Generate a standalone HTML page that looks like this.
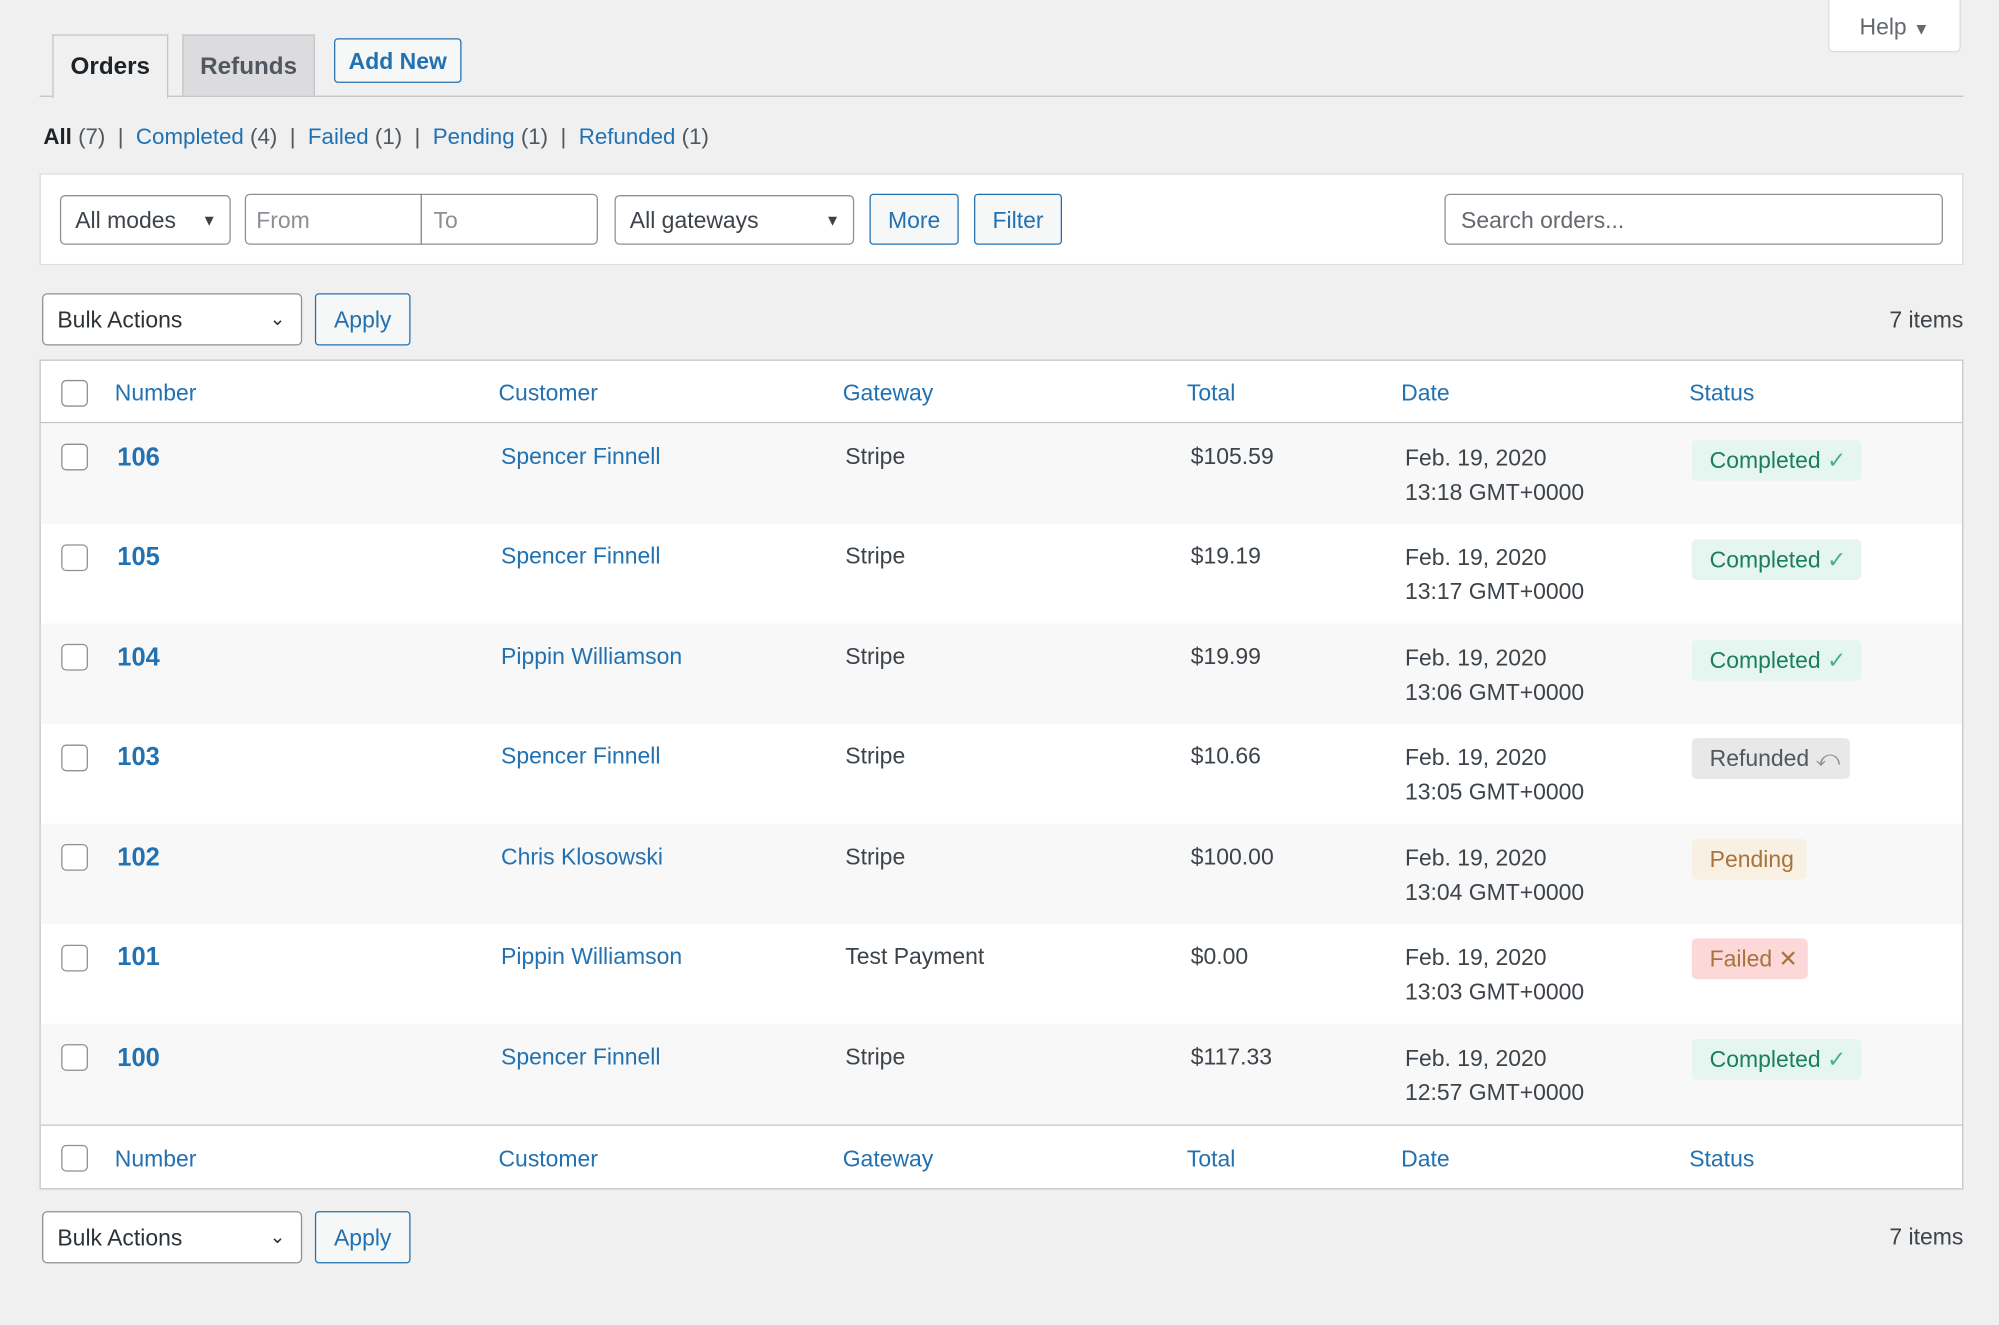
<!DOCTYPE html>
<html><head><meta charset="utf-8"><style>
html,body{margin:0;padding:0;background:#f0f0f1;width:1999px;height:1325px;overflow:hidden}
#s{position:absolute;left:0;top:0;width:1568px;height:1039px;transform:scale(1.2749);transform-origin:0 0;font-family:"Liberation Sans",sans-serif;color:#3c434a;font-size:18px}
.a{position:absolute;white-space:nowrap}
.t{margin-top:2px}
.l{color:#2271b1}
.box{position:absolute;background:#fff;border:1px solid #8c8f94;border-radius:4px;box-sizing:border-box}
.btn{position:absolute;background:#f6f7f7;border:1px solid #2271b1;border-radius:3px;box-sizing:border-box;color:#2271b1;text-align:center}
.cb{position:absolute;width:21px;height:21px;border:1px solid #8c8f94;border-radius:4px;background:#fff;box-sizing:border-box}
.row{position:absolute;left:32px;width:1507px;height:78.5px}
.badge{position:absolute;height:32px;line-height:32px;border-radius:4px;padding:0 12px 0 14px;font-size:18px}
</style></head><body><div id="s">
<div class="a" style="left:1434px;top:-2px;width:104px;height:43px;background:#fff;border:1px solid #dcdcde;border-radius:0 0 4px 4px;box-sizing:border-box;text-align:center;line-height:45px;color:#646970">Help <span style="font-size:13px">▼</span></div>
<div class="a" style="left:31px;top:75px;width:1509px;height:1px;background:#c3c4c7"></div>
<div class="a" style="left:41px;top:27px;width:91px;height:50px;background:#f0f0f1;border:1px solid #c3c4c7;border-bottom:none;box-sizing:border-box;text-align:center;line-height:50px;font-weight:bold;color:#1d2327;font-size:19px">Orders</div>
<div class="a" style="left:143px;top:27px;width:104px;height:48px;background:#dcdcde;border:1px solid #c3c4c7;border-bottom:none;box-sizing:border-box;text-align:center;line-height:50px;font-weight:bold;color:#50575e;font-size:19px">Refunds</div>
<div class="a" style="left:262px;top:30px;width:100px;height:35px;border:1px solid #2271b1;border-radius:3px;box-sizing:border-box;text-align:center;line-height:35px;font-weight:bold;color:#2271b1;background:#f6f7f7">Add New</div>
<div class="a" style="left:34px;top:97px;font-size:17.5px;color:#50575e"><b style="color:#1d2327">All</b> (7) &nbsp;| &nbsp;<span class="l">Completed</span> (4) &nbsp;| &nbsp;<span class="l">Failed</span> (1) &nbsp;| &nbsp;<span class="l">Pending</span> (1) &nbsp;| &nbsp;<span class="l">Refunded</span> (1)</div>
<div class="a" style="left:31px;top:136px;width:1509px;height:72px;background:#fff;border:1px solid #dcdcde;box-sizing:border-box"></div>
<div class="box" style="left:47px;top:153px;width:134px;height:39px;line-height:39px;padding-left:11px">All modes<span style="position:absolute;right:10px;font-size:12px">▼</span></div>
<div class="box" style="left:192px;top:152px;width:139px;height:40px;line-height:40px;padding-left:8px;color:#8c8f94;border-radius:4px 0 0 4px">From</div>
<div class="box" style="left:330px;top:152px;width:139px;height:40px;line-height:40px;padding-left:9px;color:#8c8f94;border-radius:0 4px 4px 0">To</div>
<div class="box" style="left:482px;top:153px;width:188px;height:39px;line-height:39px;padding-left:11px">All gateways<span style="position:absolute;right:10px;font-size:12px">▼</span></div>
<div class="btn" style="left:682px;top:152px;width:70px;height:40px;line-height:40px">More</div>
<div class="btn" style="left:764px;top:152px;width:69px;height:40px;line-height:40px">Filter</div>
<div class="box" style="left:1133px;top:152px;width:391px;height:40px;line-height:40px;padding-left:12px;color:#646970">Search orders...</div>
<div class="box" style="left:33px;top:230px;width:204px;height:41px;line-height:41px;padding-left:11px;color:#2c3338">Bulk Actions<span style="position:absolute;right:12px;top:-1px;font-size:15px">⌄</span></div>
<div class="btn" style="left:247px;top:230px;width:75px;height:41px;line-height:41px">Apply</div>
<div class="a" style="right:28px;top:241px;color:#3c434a">7 items</div>
<div class="a" style="left:31px;top:282px;width:1509px;height:651px;background:#fff;border:1px solid #c3c4c7;box-sizing:border-box"></div>
<div class="a" style="left:32px;top:331px;width:1507px;height:1px;background:#c3c4c7"></div>
<div class="a" style="left:32px;top:882px;width:1507px;height:1px;background:#c3c4c7"></div>
<div class="row" style="top:332px;background:#f8f8f8"></div>
<div class="row" style="top:489px;background:#f8f8f8"></div>
<div class="row" style="top:646px;background:#f8f8f8"></div>
<div class="row" style="top:803px;height:79px;background:#f8f8f8"></div>
<div class="cb" style="left:48px;top:298px"></div>
<div class="a l" style="left:90px;top:298px">Number</div><div class="a l" style="left:391px;top:298px">Customer</div><div class="a l" style="left:661px;top:298px">Gateway</div><div class="a l" style="left:931px;top:298px">Total</div><div class="a l" style="left:1099px;top:298px">Date</div><div class="a l" style="left:1325px;top:298px">Status</div>
<div class="cb" style="left:48px;top:898px"></div>
<div class="a l" style="left:90px;top:899px">Number</div><div class="a l" style="left:391px;top:899px">Customer</div><div class="a l" style="left:661px;top:899px">Gateway</div><div class="a l" style="left:931px;top:899px">Total</div><div class="a l" style="left:1099px;top:899px">Date</div><div class="a l" style="left:1325px;top:899px">Status</div>

<div class="cb" style="left:48px;top:348px"></div><div class="a l t" style="left:92px;top:346px;font-weight:bold;font-size:20px">106</div><div class="a l t" style="left:393px;top:346px">Spencer Finnell</div><div class="a t" style="left:663px;top:346px">Stripe</div><div class="a t" style="left:934px;top:346px">$105.59</div><div class="a t" style="left:1102px;top:344px;line-height:26.5px">Feb. 19, 2020<br>13:18 GMT+0000</div><div class="badge" style="left:1327px;top:345px;background:#e5f5f0;color:#1a7e5b">Completed <span style="color:#4ab08a">✓</span></div>

<div class="cb" style="left:48px;top:427px"></div><div class="a l t" style="left:92px;top:424px;font-weight:bold;font-size:20px">105</div><div class="a l t" style="left:393px;top:424px">Spencer Finnell</div><div class="a t" style="left:663px;top:424px">Stripe</div><div class="a t" style="left:934px;top:424px">$19.19</div><div class="a t" style="left:1102px;top:422px;line-height:26.5px">Feb. 19, 2020<br>13:17 GMT+0000</div><div class="badge" style="left:1327px;top:423px;background:#e5f5f0;color:#1a7e5b">Completed <span style="color:#4ab08a">✓</span></div>

<div class="cb" style="left:48px;top:505px"></div><div class="a l t" style="left:92px;top:503px;font-weight:bold;font-size:20px">104</div><div class="a l t" style="left:393px;top:503px">Pippin Williamson</div><div class="a t" style="left:663px;top:503px">Stripe</div><div class="a t" style="left:934px;top:503px">$19.99</div><div class="a t" style="left:1102px;top:501px;line-height:26.5px">Feb. 19, 2020<br>13:06 GMT+0000</div><div class="badge" style="left:1327px;top:502px;background:#e5f5f0;color:#1a7e5b">Completed <span style="color:#4ab08a">✓</span></div>

<div class="cb" style="left:48px;top:584px"></div><div class="a l t" style="left:92px;top:581px;font-weight:bold;font-size:20px">103</div><div class="a l t" style="left:393px;top:581px">Spencer Finnell</div><div class="a t" style="left:663px;top:581px">Stripe</div><div class="a t" style="left:934px;top:581px">$10.66</div><div class="a t" style="left:1102px;top:579px;line-height:26.5px">Feb. 19, 2020<br>13:05 GMT+0000</div><div class="badge" style="left:1327px;top:579px;background:#e8e8e8;color:#50575e;padding-right:8px">Refunded <span style="color:#8c8f94">⤺</span></div>

<div class="cb" style="left:48px;top:662px"></div><div class="a l t" style="left:92px;top:660px;font-weight:bold;font-size:20px">102</div><div class="a l t" style="left:393px;top:660px">Chris Klosowski</div><div class="a t" style="left:663px;top:660px">Stripe</div><div class="a t" style="left:934px;top:660px">$100.00</div><div class="a t" style="left:1102px;top:658px;line-height:26.5px">Feb. 19, 2020<br>13:04 GMT+0000</div><div class="badge" style="left:1327px;top:658px;background:#f7f0e3;color:#a8733c;padding-right:10px">Pending</div>

<div class="cb" style="left:48px;top:741px"></div><div class="a l t" style="left:92px;top:738px;font-weight:bold;font-size:20px">101</div><div class="a l t" style="left:393px;top:738px">Pippin Williamson</div><div class="a t" style="left:663px;top:738px">Test Payment</div><div class="a t" style="left:934px;top:738px">$0.00</div><div class="a t" style="left:1102px;top:736px;line-height:26.5px">Feb. 19, 2020<br>13:03 GMT+0000</div><div class="badge" style="left:1327px;top:736px;background:#fcd8d8;color:#a8733c;padding-right:8px">Failed ✕</div>

<div class="cb" style="left:48px;top:819px"></div><div class="a l t" style="left:92px;top:817px;font-weight:bold;font-size:20px">100</div><div class="a l t" style="left:393px;top:817px">Spencer Finnell</div><div class="a t" style="left:663px;top:817px">Stripe</div><div class="a t" style="left:934px;top:817px">$117.33</div><div class="a t" style="left:1102px;top:815px;line-height:26.5px">Feb. 19, 2020<br>12:57 GMT+0000</div><div class="badge" style="left:1327px;top:815px;background:#e5f5f0;color:#1a7e5b">Completed <span style="color:#4ab08a">✓</span></div>

<div class="box" style="left:33px;top:950px;width:204px;height:41px;line-height:41px;padding-left:11px;color:#2c3338">Bulk Actions<span style="position:absolute;right:12px;top:-1px;font-size:15px">⌄</span></div>
<div class="btn" style="left:247px;top:950px;width:75px;height:41px;line-height:41px">Apply</div>
<div class="a" style="right:28px;top:960px;color:#3c434a">7 items</div>
</div></body></html>
